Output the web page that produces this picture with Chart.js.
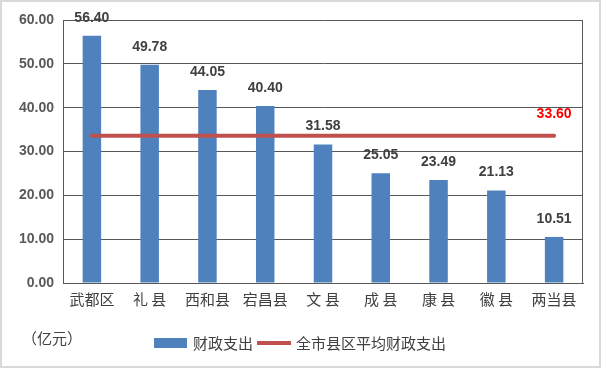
<!DOCTYPE html>
<html>
<head>
<meta charset="utf-8">
<script src="https://cdn.jsdelivr.net/npm/chart.js@4/dist/chart.umd.min.js"></script>
<style>
  html, body { margin: 0; padding: 0; background: #fff; }
  canvas { display: block; }
</style>
</head>
<body>
<canvas id="chart" width="602" height="369"></canvas>
<script>
'use strict';

/*********** VARIABLES ***********/
var counties = ['武都区', '礼 县', '西和县', '宕昌县', '文 县', '成 县', '康 县', '徽 县', '两当县'];
var spending = [56.40, 49.78, 44.05, 40.40, 31.58, 25.05, 23.49, 21.13, 10.51];
var average = [33.60, 33.60, 33.60, 33.60, 33.60, 33.60, 33.60, 33.60, 33.60];
var yTicks = [0, 10, 20, 30, 40, 50, 60];
var seriesNames = ['财政支出', '全市县区平均财政支出'];
var unitText = '（亿元）';

var barColor = '#4F81BD';
var lineColor = '#C0504D';
var textColor = '#404040';
var gridColor = '#595959';
var numFont = 'bold 14px "Liberation Sans", Arial, sans-serif';
var cjkFont = '"Noto Sans CJK SC", sans-serif';

/*********** PLUGINS ***********/
// value labels above the bars and the last point of the average line
var valueLabels = {
  id: 'valueLabels',
  afterDatasetsDraw: function(chart) {
    var ctx = chart.ctx;
    ctx.save();
    ctx.font = numFont;
    ctx.textAlign = 'center';
    ctx.textBaseline = 'middle';
    var barMeta = chart.getDatasetMeta(1);
    ctx.fillStyle = textColor;
    for (var i = 0; i < barMeta.data.length; i++) {
      var bar = barMeta.data[i];
      ctx.fillText(spending[i].toFixed(2), bar.x, bar.y - 18);
    }
    var lineMeta = chart.getDatasetMeta(0);
    var last = lineMeta.data[lineMeta.data.length - 1];
    ctx.fillStyle = '#FF0000';
    ctx.fillText(average[average.length - 1].toFixed(2), last.x, last.y - 22);
    ctx.restore();
  }
};

// plot frame, outer border, unit text and legend
var decorations = {
  id: 'decorations',
  afterDraw: function(chart) {
    var ctx = chart.ctx;
    var area = chart.chartArea;
    ctx.save();
    // right edge of the plot area
    ctx.strokeStyle = gridColor;
    ctx.lineWidth = 1;
    ctx.beginPath();
    ctx.moveTo(Math.round(area.right) - 0.5, area.top);
    ctx.lineTo(Math.round(area.right) - 0.5, area.bottom);
    ctx.stroke();
    // outer border
    ctx.strokeStyle = '#D9D9D9';
    ctx.lineWidth = 2;
    ctx.strokeRect(1, 1, 599, 366);

    ctx.font = '15px ' + cjkFont;
    ctx.fillStyle = textColor;
    ctx.textBaseline = 'middle';
    ctx.textAlign = 'left';
    ctx.fillText(unitText, 22, 338);

    // legend
    var ly = 343;
    ctx.fillStyle = barColor;
    ctx.fillRect(154, ly - 5, 33, 10);
    ctx.fillStyle = textColor;
    ctx.fillText(seriesNames[0], 193, ly);
    ctx.strokeStyle = lineColor;
    ctx.lineWidth = 4;
    ctx.beginPath();
    ctx.moveTo(257, ly);
    ctx.lineTo(291, ly);
    ctx.stroke();
    ctx.fillText(seriesNames[1], 296, ly);
    ctx.restore();
  }
};

/*********** CHART ***********/
var ctx = document.getElementById('chart').getContext('2d');

new Chart(ctx, {
  data: {
    labels: counties,
    datasets: [{
      type: 'line',
      label: seriesNames[1],
      data: average,
      borderColor: lineColor,
      borderWidth: 4,
      borderCapStyle: 'round',
      pointRadius: 0,
      fill: false,
      order: 0
    }, {
      type: 'bar',
      label: seriesNames[0],
      data: spending,
      backgroundColor: barColor,
      barPercentage: 0.32,
      categoryPercentage: 1,
      order: 1
    }]
  },
  options: {
    responsive: false,
    animation: false,
    devicePixelRatio: 1,
    layout: {
      autoPadding: false,
      padding: { left: 0, top: 20, right: 19, bottom: 46 }
    },
    plugins: {
      legend: { display: false },
      tooltip: { enabled: false }
    },
    scales: {
      x: {
        grid: { display: false, drawTicks: false },
        border: { display: true, color: gridColor, width: 1 },
        ticks: {
          color: textColor,
          font: { family: cjkFont, size: 15 },
          padding: 7,
          maxRotation: 0,
          autoSkip: false
        },
        afterFit: function(scale) { scale.height = 40; }
      },
      y: {
        min: 0,
        max: 60,
        afterBuildTicks: function(scale) {
          scale.ticks = yTicks.map(function(v) { return { value: v }; });
        },
        grid: { color: gridColor, drawTicks: false },
        border: { display: true, color: gridColor, width: 1 },
        ticks: {
          color: '#595959',
          font: { family: '"Liberation Sans", Arial, sans-serif', size: 14, weight: 'bold' },
          padding: 9,
          callback: function(v) { return Number(v).toFixed(2); }
        },
        afterFit: function(scale) { scale.width = 63; }
      }
    }
  },
  plugins: [valueLabels, decorations]
});
</script>
</body>
</html>
